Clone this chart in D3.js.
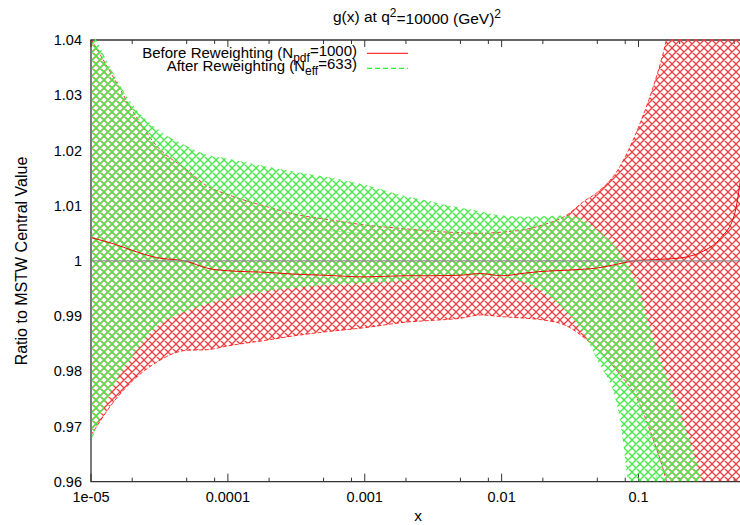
<!DOCTYPE html>
<html lang="en">
<head>
<meta charset="utf-8">
<title>g(x) at q2=10000 (GeV)2</title>
<script src="https://d3js.org/d3.v7.min.js"></script>
<style>
  body { margin: 0; background: #fff; }
  text { font-family: "Liberation Sans", Arial, sans-serif; fill: #000; }
</style>
</head>
<body>
<script>
// x grid (log spaced) shared by every series
var xs = [1e-5, 1.5e-5, 2e-5, 3e-5, 5e-5, 7e-5, 1e-4, 2e-4, 3e-4, 5e-4,
          1e-3, 2e-3, 3e-3, 5e-3, 7e-3, 1e-2, 1.5e-2, 2e-2, 3e-2, 4e-2,
          5e-2, 7e-2, 0.1, 0.13, 0.15, 0.2, 0.25, 0.3, 0.4, 0.5, 0.58];

// before reweighting (N_pdf=1000)
var beforeHigh = [1.0402, 1.0327, 1.0273, 1.0209, 1.0165, 1.0136, 1.0120, 1.0097, 1.0085, 1.0076,
                  1.0065, 1.0058, 1.0054, 1.0051, 1.0050, 1.0052, 1.0057, 1.0065, 1.0083, 1.0108,
                  1.0124, 1.0163, 1.0242, 1.0320, 1.0372, 1.052, 1.065, 1.080, 1.100, 1.120, 1.140];
var beforeMid  = [1.0042, 1.0030, 1.0019, 1.0006, 0.9999, 0.9987, 0.9982, 0.9979, 0.9976, 0.9974,
                  0.9971, 0.9973, 0.9973, 0.9974, 0.9977, 0.9973, 0.9978, 0.9981, 0.9983, 0.9985,
                  0.9987, 0.9994, 1.0001, 1.0002, 1.0003, 1.0005, 1.0010, 1.0018, 1.0042, 1.0082, 1.0182];
var beforeLow  = [0.9684, 0.9748, 0.9782, 0.9816, 0.9838, 0.9839, 0.9846, 0.9857, 0.9864, 0.9871,
                  0.9879, 0.9889, 0.9892, 0.9896, 0.9902, 0.9899, 0.9896, 0.9893, 0.9882, 0.9861,
                  0.9840, 0.9800, 0.9745, 0.9672, 0.9626, 0.950, 0.940, 0.930, 0.910, 0.895, 0.880];

// after reweighting (N_eff=633)
var afterHigh = [1.0420, 1.0334, 1.0284, 1.0240, 1.0208, 1.0192, 1.0185, 1.0170, 1.0162, 1.0153,
                 1.0138, 1.0117, 1.0108, 1.0096, 1.0090, 1.0082, 1.0080, 1.0081, 1.0082, 1.0074,
                 1.0056, 1.0021, 0.9950, 0.9855, 0.9810, 0.9726, 0.9657, 0.9590, 0.950, 0.940, 0.930];
var afterMid  = [1.0048, 1.0056, 1.0055, 1.0060, 1.0058, 1.0057, 1.0058, 1.0058, 1.0057, 1.0055,
                 1.0049, 1.0041, 1.0040, 1.0035, 1.0031, 1.0026, 1.0020, 1.0012, 0.9992, 0.9965,
                 0.9935, 0.9870, 0.9750, 0.9630, 0.9550, 0.940, 0.930, 0.920, 0.900, 0.890, 0.880];
var afterLow  = [0.9672, 0.9778, 0.9827, 0.9879, 0.9909, 0.9922, 0.9932, 0.9946, 0.9951, 0.9956,
                 0.9960, 0.9965, 0.9972, 0.9973, 0.9973, 0.9970, 0.9960, 0.9944, 0.9908, 0.9867,
                 0.9820, 0.9737, 0.9450, 0.930, 0.920, 0.900, 0.890, 0.880, 0.860, 0.850, 0.840];

var xMajor = [1e-5, 1e-4, 1e-3, 1e-2, 1e-1];
var xMajorLabels = ["1e-05", "0.0001", "0.001", "0.01", "0.1"];
var xMinorSteps = [2, 5, 8];
var yTicks = [0.96, 0.97, 0.98, 0.99, 1, 1.01, 1.02, 1.03, 1.04];
var yTickLabels = ["0.96", "0.97", "0.98", "0.99", "1", "1.01", "1.02", "1.03", "1.04"];

var w = 740, h = 525;
var pLeft = 91, pRight = 743, pTop = 40, pBottom = 481.7;

var svg = d3.select("body").append("svg")
  .attr("width", w)
  .attr("height", h);

var xScale = d3.scaleLog().domain([1e-5, 0.58]).range([pLeft, pRight]);
var yScale = d3.scaleLinear().domain([0.96, 1.04]).range([pBottom, pTop]);

var rows = xs.map(function(d, i) {
  return { x: d, bLo: beforeLow[i], bMid: beforeMid[i], bHi: beforeHigh[i],
           aLo: afterLow[i], aMid: afterMid[i], aHi: afterHigh[i] };
});

var defs = svg.append("defs");
// crosshatch fill like gnuplot's pattern
function hatch(id, color) {
  var p = 8;
  defs.append("pattern")
    .attr("id", id)
    .attr("width", p).attr("height", p)
    .attr("patternUnits", "userSpaceOnUse")
    .append("path")
    .attr("d", "M-1,-1L9,9M9,-1L-1,9M-1,7L1,9M7,-1L9,1M-1,1L1,-1M7,9L9,7")
    .attr("stroke", color)
    .attr("stroke-width", 1.25)
    .attr("fill", "none");
}
hatch("hatchRed", "#f43c3c");
hatch("hatchGreen", "#40ec40");

defs.append("clipPath").attr("id", "plotClip")
  .append("rect")
  .attr("x", pLeft + 1).attr("y", pTop - 1)
  .attr("width", pRight - pLeft).attr("height", pBottom - pTop + 0.5);

// border (right edge falls outside the picture)
var axisColor = "#333";
svg.append("path")
  .attr("d", "M" + pRight + "," + pTop + "H" + pLeft + "V" + pBottom + "H" + pRight)
  .attr("fill", "none")
  .attr("stroke", axisColor)
  .attr("stroke-width", 1.3);

// x ticks, mirrored on top, pointing inward
var minor = [];
xMajor.forEach(function(m) {
  xMinorSteps.forEach(function(s) { if (m * s < 0.58) minor.push(m * s); });
});
var tickG = svg.append("g").attr("stroke", axisColor).attr("stroke-width", 1);
xMajor.forEach(function(t) {
  tickG.append("line").attr("x1", xScale(t)).attr("x2", xScale(t)).attr("y1", pBottom).attr("y2", pBottom - 8);
  tickG.append("line").attr("x1", xScale(t)).attr("x2", xScale(t)).attr("y1", pTop).attr("y2", pTop + 7);
});
minor.forEach(function(t) {
  tickG.append("line").attr("x1", xScale(t)).attr("x2", xScale(t)).attr("y1", pBottom).attr("y2", pBottom - 4);
  tickG.append("line").attr("x1", xScale(t)).attr("x2", xScale(t)).attr("y1", pTop).attr("y2", pTop + 4);
});

svg.selectAll(".xlab").data(xMajor).enter().append("text")
  .attr("class", "xlab")
  .attr("x", function(d) { return xScale(d); })
  .attr("y", 502)
  .attr("text-anchor", "middle")
  .style("font-size", "14.5px")
  .text(function(d, i) { return xMajorLabels[i]; });

svg.selectAll(".ylab").data(yTicks).enter().append("text")
  .attr("class", "ylab")
  .attr("x", 82)
  .attr("y", function(d) { return yScale(d); })
  .attr("dy", "0.36em")
  .attr("text-anchor", "end")
  .style("font-size", "14.5px")
  .text(function(d, i) { return yTickLabels[i]; });

var plot = svg.append("g").attr("clip-path", "url(#plotClip)");

var bandBefore = d3.area().curve(d3.curveMonotoneX)
  .x(function(d) { return xScale(d.x); })
  .y0(function(d) { return yScale(d.bLo); })
  .y1(function(d) { return yScale(d.bHi); });
var bandAfter = d3.area().curve(d3.curveMonotoneX)
  .x(function(d) { return xScale(d.x); })
  .y0(function(d) { return yScale(d.aLo); })
  .y1(function(d) { return yScale(d.aHi); });
function line(key) {
  return d3.line().curve(d3.curveMonotoneX)
    .x(function(d) { return xScale(d.x); })
    .y(function(d) { return yScale(d[key]); });
}

plot.append("path").datum(rows).attr("d", bandBefore).attr("fill", "url(#hatchRed)");
["bLo", "bHi"].forEach(function(k) {
  plot.append("path").datum(rows).attr("d", line(k))
    .attr("fill", "none").attr("stroke", "#f00").attr("stroke-width", 0.8)
    .attr("stroke-dasharray", "4,2");
});
plot.append("path").datum(rows).attr("d", bandAfter).attr("fill", "url(#hatchGreen)");
plot.append("path").datum(rows).attr("d", line("aMid"))
  .attr("fill", "none").attr("stroke", "#6e6").attr("stroke-width", 0.7)
  .attr("stroke-dasharray", "5,3");
plot.append("path").datum(rows).attr("d", line("bMid"))
  .attr("fill", "none").attr("stroke", "#e00").attr("stroke-width", 1);

// reference line at 1
plot.append("line")
  .attr("x1", pLeft).attr("x2", pRight)
  .attr("y1", yScale(1)).attr("y2", yScale(1))
  .attr("stroke", "#888").attr("stroke-width", 1.2);

// title
var title = svg.append("text").attr("x", 417).attr("y", 22)
  .attr("text-anchor", "middle").style("font-size", "15.5px");
title.append("tspan").text("g(x) at q");
title.append("tspan").attr("dy", "-0.45em").style("font-size", "12px").text("2");
title.append("tspan").attr("dy", "0.45em").text("=10000 (GeV)");
title.append("tspan").attr("dy", "-0.45em").style("font-size", "12px").text("2");

// axis labels
svg.append("text").attr("x", 418).attr("y", 521)
  .attr("text-anchor", "middle").style("font-size", "15.5px").text("x");
svg.append("text")
  .attr("transform", "translate(27,261) rotate(-90)")
  .attr("text-anchor", "middle").style("font-size", "16px")
  .text("Ratio to MSTW Central Value");

// legend
var legend = [
  { pre: "Before Reweighting (N", sub: "pdf", post: "=1000)", color: "#f00", dash: null, ty: 57.5, ly: 53.3 },
  { pre: "After Reweighting (N", sub: "eff", post: "=633)", color: "#0e0", dash: "5,3", ty: 70.5, ly: 68.3 }
];
legend.forEach(function(L) {
  var t = svg.append("text").attr("x", 357).attr("y", L.ty)
    .attr("text-anchor", "end").style("font-size", "15px");
  t.append("tspan").text(L.pre);
  t.append("tspan").attr("dy", "0.35em").style("font-size", "12px").text(L.sub);
  t.append("tspan").attr("dy", "-0.35em").text(L.post);
  svg.append("line").attr("x1", 367).attr("x2", 408)
    .attr("y1", L.ly).attr("y2", L.ly)
    .attr("stroke", L.color).attr("stroke-width", 1)
    .attr("stroke-dasharray", L.dash);
});
</script>
</body>
</html>
